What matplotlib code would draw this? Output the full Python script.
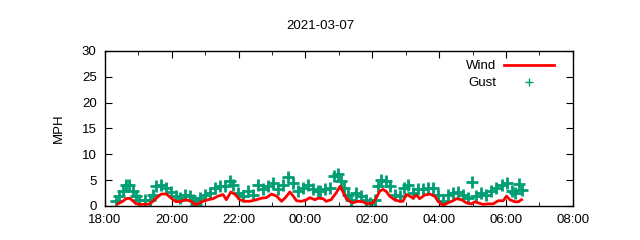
import datetime as dt
import matplotlib
matplotlib.use("Agg")
import matplotlib.pyplot as plt
import matplotlib.dates as mdates

plt.rcParams['font.family'] = ['Liberation Sans', 'DejaVu Sans']

title = "2021-03-07"
ylabel = "MPH"

wind_times = ["18:23", "18:32", "18:38", "18:44", "18:50", "18:56", "19:05", "19:17",
              "19:23", "19:32", "19:41", "19:50", "19:59", "20:08", "20:17", "20:26",
              "20:35", "20:41", "20:47", "20:56", "21:05", "21:14", "21:23", "21:32",
              "21:38", "21:46", "21:53", "22:02", "22:11", "22:20", "22:32", "22:41",
              "22:50", "22:59", "23:08", "23:17", "23:23", "23:32", "23:38", "23:44",
              "23:53", "00:02", "00:08", "00:17", "00:23", "00:32", "00:37", "00:46",
              "00:55", "01:02", "01:07", "01:13", "01:19", "01:25", "01:34", "01:43",
              "01:52", "02:01", "02:07", "02:13", "02:19", "02:25", "02:31", "02:40",
              "02:49", "02:55", "03:01", "03:07", "03:13", "03:19", "03:25", "03:34",
              "03:43", "03:52", "03:58", "04:07", "04:16", "04:25", "04:31", "04:40",
              "04:49", "04:58", "05:04", "05:10", "05:19", "05:28", "05:37", "05:46",
              "05:55", "06:01", "06:07", "06:16", "06:22", "06:28"]
wind = [0.4, 0.9, 1.4, 1.5, 1.0, 0.4, 0.3, 0.3,
        0.6, 1.5, 2.3, 2.3, 1.5, 0.8, 0.9, 1.2,
        0.9, 0.3, 0.4, 0.9, 1.2, 1.4, 1.9, 2.2,
        1.2, 2.7, 2.3, 1.2, 0.9, 0.9, 1.2, 1.5,
        1.6, 2.3, 1.9, 0.9, 1.5, 2.7, 1.9, 1.0,
        0.9, 1.2, 1.6, 1.2, 1.5, 1.4, 0.9, 1.2,
        2.5, 3.8, 2.8, 1.5, 0.9, 0.6, 0.9, 0.8,
        0.4, 0.6, 1.5, 2.8, 3.2, 2.8, 1.9, 1.2,
        0.9, 0.9, 2.2, 1.9, 1.5, 2.1, 1.4, 2.1,
        2.3, 1.9, 0.9, 0.1, 0.6, 1.0, 1.4, 1.2,
        0.6, 0.4, 0.8, 0.6, 0.3, 0.4, 0.4, 1.0,
        1.0, 1.9, 1.2, 0.8, 0.8, 1.2]

gust_times = ["18:20", "18:26", "18:32", "18:38", "18:44", "18:50", "18:56", "19:02",
              "19:11", "19:20", "19:26", "19:32", "19:41", "19:50", "19:59", "20:08",
              "20:14", "20:23", "20:32", "20:38", "20:44", "20:50", "20:59", "21:08",
              "21:17", "21:26", "21:35", "21:44", "21:50", "21:59", "22:08", "22:17",
              "22:26", "22:35", "22:44", "22:53", "23:02", "23:11", "23:20", "23:29",
              "23:38", "23:47", "23:56", "00:05", "00:14", "00:23", "00:26", "00:35",
              "00:44", "00:52", "00:58", "01:04", "01:10", "01:16", "01:22", "01:31",
              "01:40", "01:49", "01:55", "02:04", "02:10", "02:16", "02:25", "02:31",
              "02:40", "02:49", "02:57", "03:04", "03:13", "03:22", "03:31", "03:40",
              "03:49", "03:58", "04:07", "04:16", "04:25", "04:34", "04:43", "04:52",
              "04:59", "05:07", "05:16", "05:25", "05:34", "05:43", "05:52", "06:01",
              "06:10", "06:17", "06:23", "06:29"]
gust = [0.9, 1.9, 2.8, 4.1, 4.1, 2.8, 1.9, 1.2,
        1.1, 1.2, 2.2, 3.8, 4.1, 3.5, 2.7, 1.9,
        1.5, 2.2, 1.9, 1.2, 0.4, 1.5, 2.2, 2.5,
        3.5, 3.8, 3.8, 4.8, 4.1, 2.5, 1.9, 2.8,
        2.2, 4.1, 3.2, 3.8, 4.4, 3.2, 4.1, 5.5,
        4.4, 2.8, 3.5, 4.1, 3.2, 2.8, 2.8, 3.2,
        3.5, 5.7, 6.1, 4.8, 3.5, 2.2, 1.2, 2.5,
        1.9, 1.2, 0.6, 1.2, 3.8, 5.1, 4.8, 3.8,
        2.2, 1.9, 3.5, 4.0, 2.5, 3.2, 3.2, 3.5,
        3.5, 2.2, 0.9, 2.2, 2.5, 2.7, 2.2, 1.5,
        4.6, 1.9, 2.5, 2.2, 2.8, 3.5, 4.1, 4.4,
        2.8, 2.5, 4.3, 3.1]


def to_dt(hhmm):
    h, m = map(int, hhmm.split(":"))
    day = 6 if h >= 12 else 7
    return dt.datetime(2021, 3, day, h, m)


wt = [to_dt(t) for t in wind_times]
gt = [to_dt(t) for t in gust_times]

fig = plt.figure(figsize=(6.4, 2.4), dpi=100)
ax = fig.add_axes([0.164, 0.142, 0.731, 0.646])

ax.plot(wt, wind, color='#ff0000', lw=2, label='Wind', zorder=3)
ax.plot(gt, gust, ls='none', marker='+', ms=8, mew=2, color='#009e73', label='Gust', zorder=2)

ax.set_xlim(dt.datetime(2021, 3, 6, 18, 0), dt.datetime(2021, 3, 7, 8, 0))
ax.set_ylim(0, 30)
ax.set_yticks(range(0, 31, 5))
ax.xaxis.set_major_locator(mdates.HourLocator(interval=2))
ax.xaxis.set_minor_locator(mdates.HourLocator(interval=1))
ax.xaxis.set_major_formatter(mdates.DateFormatter('%H:%M'))
ax.tick_params(which='both', direction='in', top=True, right=True, labelsize=9.5, pad=6)
ax.tick_params(which='major', length=5)
ax.tick_params(which='minor', length=3)
for s in ax.spines.values():
    s.set_linewidth(1)

ax.set_ylabel(ylabel, fontsize=9.5, labelpad=12)
fig.suptitle(title, fontsize=9.5, y=0.915)

leg = ax.legend(loc='upper right', bbox_to_anchor=(0.98, 1.0), frameon=False,
                markerfirst=False, fontsize=9.5, handlelength=3.8, handletextpad=0.6,
                borderaxespad=0.3, labelspacing=0.35)
leg.legend_handles[1].set_markersize(6)
leg.legend_handles[1].set_markeredgewidth(1)

fig.savefig("out.png", dpi=100)
